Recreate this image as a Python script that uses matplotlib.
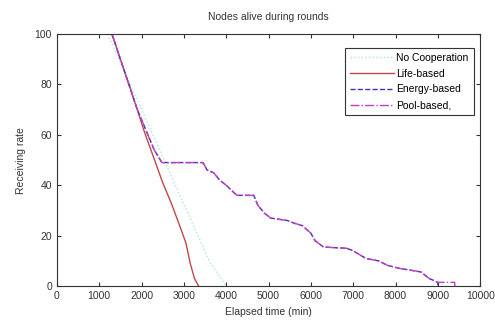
import matplotlib
matplotlib.use('Agg')
import matplotlib.pyplot as plt

plt.rcParams['font.family'] = ['Liberation Sans Narrow', 'Liberation Sans', 'DejaVu Sans']
plt.rcParams['font.size'] = 7.5

# 各曲线数据
no_coop_x = [1200, 1600, 2000, 2400, 2800, 3200, 3600, 4000]
no_coop_y = [100, 85, 70, 55, 40, 25, 10, 0]

life_x = [1300, 1500, 1700, 1900, 2050, 2200, 2350, 2500, 2700, 2900, 3050, 3150, 3250, 3350]
life_y = [100, 90, 80, 70, 62, 55, 48, 41, 33, 24, 17, 9, 3, 0]

energy_x = [1300, 1500, 1700, 1900, 2100, 2300, 2480, 3450, 3550, 3700, 3850, 4000, 4250,
            4650, 4750, 4900, 5050, 5450, 5600, 5800, 6000, 6100, 6300, 6850, 7000, 7300,
            7600, 7800, 8100, 8300, 8600, 8800, 9000, 9000]
energy_y = [100, 90, 80, 70, 62, 54, 49, 49, 46, 45, 42, 40, 36,
            36, 32, 29, 27, 26, 25, 24, 21, 18, 15.5, 15, 14, 11,
            10, 8.3, 7, 6.5, 5.6, 3, 1.5, 0]

pool_x = energy_x[:-1] + [9400, 9400]
pool_y = energy_y[:-1] + [1.5, 0]

fig = plt.figure(figsize=(4.95, 3.27), dpi=100)
ax = fig.add_axes([0.115, 0.125, 0.855, 0.771])

ax.plot(no_coop_x, no_coop_y, ':', color='#a8e8d8', lw=1.0, label='No Cooperation')
ax.plot(life_x, life_y, '-', color='#c04848', lw=1.0, label='Life-based')
ax.plot(energy_x, energy_y, '--', color='#3838b0', lw=1.0, label='Energy-based')
ax.plot(pool_x, pool_y, '-.', color='#c040c0', lw=1.0, label='Pool-based,')

ax.set_xlim(0, 10000)
ax.set_ylim(0, 100)
ax.set_xticks(range(0, 10001, 1000))
ax.set_yticks(range(0, 101, 20))
ax.tick_params(direction='in', top=True, right=True, length=3, colors='#333333', labelsize=7.5)
for s in ax.spines.values():
    s.set_color('#333333')
    s.set_linewidth(0.8)

ax.set_title('Nodes alive during rounds', fontsize=7.5, color='#333333', pad=10)
ax.set_xlabel('Elapsed time (min)', fontsize=7.5, color='#333333', labelpad=4)
ax.set_ylabel('Receiving rate', fontsize=7.5, color='#333333', labelpad=6)

leg = ax.legend(loc='upper right', fontsize=7.5, fancybox=False, edgecolor='#333333',
                framealpha=1, borderpad=0.5, handlelength=4.2, handletextpad=0.2,
                labelspacing=0.55, bbox_to_anchor=(0.997, 0.966))
leg.get_frame().set_linewidth(0.8)

fig.savefig('out.png', dpi=100)
